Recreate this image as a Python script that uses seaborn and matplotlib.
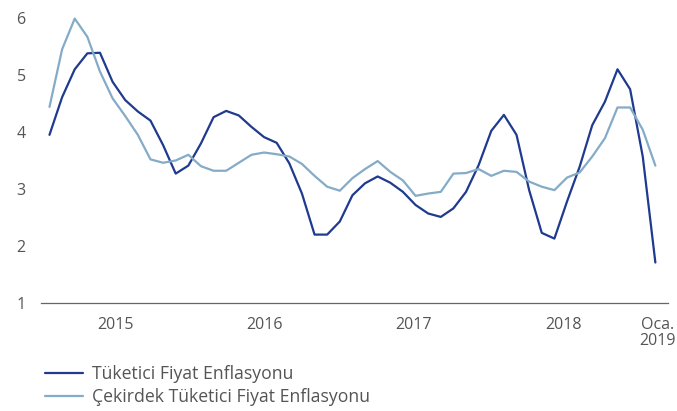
import numpy as np
import pandas as pd
import matplotlib
matplotlib.use("Agg")
import matplotlib.pyplot as plt
import seaborn as sns

# aylik veriler, Ocak 2015 - Ocak 2019
aylar = pd.date_range("2015-01-01", "2019-01-01", freq="MS")
tufe = [3.95, 4.61, 5.10, 5.38, 5.39, 4.88, 4.56, 4.36, 4.20, 3.77, 3.27, 3.41,
        3.80, 4.26, 4.37, 4.29, 4.09, 3.91, 3.81, 3.45, 2.92, 2.20, 2.20, 2.43,
        2.89, 3.10, 3.22, 3.11, 2.95, 2.72, 2.57, 2.51, 2.66, 2.95, 3.42, 4.02,
        4.30, 3.95, 2.98, 2.23, 2.13, 2.78, 3.39, 4.12, 4.53, 5.10, 4.75, 3.57,
        1.71]
cekirdek = [4.44, 5.45, 5.99, 5.67, 5.06, 4.59, 4.28, 3.95, 3.52, 3.46, 3.50, 3.60,
            3.40, 3.32, 3.32, 3.46, 3.60, 3.64, 3.61, 3.57, 3.44, 3.23, 3.04, 2.97,
            3.19, 3.35, 3.49, 3.30, 3.15, 2.88, 2.92, 2.95, 3.27, 3.28, 3.35, 3.23,
            3.32, 3.30, 3.13, 3.04, 2.98, 3.20, 3.29, 3.57, 3.89, 4.43, 4.43, 4.04,
            3.41]
seriler = ["Tüketici Fiyat Enflasyonu", "Çekirdek Tüketici Fiyat Enflasyonu"]
yil_etiketleri = ["2015", "2016", "2017", "2018", "Oca.\n2019"]

df = pd.DataFrame({"ay": np.arange(len(aylar)), seriler[0]: tufe, seriler[1]: cekirdek})
df = df.melt(id_vars="ay", var_name="seri", value_name="deger")

sns.set_style("white")
plt.rcParams["font.family"] = ["Open Sans", "DejaVu Sans"]

fig = plt.figure(figsize=(6.77, 4.11), dpi=100)
ax = fig.add_axes([0.0606, 0.2628, 0.9261, 0.6934])

renkler = {seriler[0]: "#1f3a8e", seriler[1]: "#84abc7"}
sns.lineplot(data=df, x="ay", y="deger", hue="seri", palette=renkler,
             linewidth=1.6, ax=ax, legend=False, clip_on=False)

# yil sinirlari (tick) ve etiket konumlari
sinirlar = [-0.67, 11.1, 22.9, 34.8, 46.6, 48.5]
etiket_yer = [(sinirlar[i] + sinirlar[i + 1]) / 2 for i in range(4)] + [48.2]

ax.set_xlim(-0.67, 49.0)
ax.set_ylim(1, 6)
ax.set_xticks(sinirlar)
ax.set_xticklabels([])
ax.set_xticks(etiket_yer, minor=True)
ax.set_xticklabels(yil_etiketleri, minor=True, linespacing=1.05)
ax.tick_params(axis="x", which="major", direction="in", length=3.5, width=0.8, color="#666666")
ax.tick_params(axis="x", which="minor", length=0, pad=10, labelsize=11.5, labelcolor="#555555")
ax.set_yticks([1, 2, 3, 4, 5, 6])
ax.tick_params(axis="y", length=0, pad=11, labelsize=11.5, labelcolor="#555555")
ax.set_xlabel("")
ax.set_ylabel("")

for s in ["top", "right", "left"]:
    ax.spines[s].set_visible(False)
ax.spines["bottom"].set_color("#666666")
ax.spines["bottom"].set_linewidth(0.9)

handles = [plt.Line2D([], [], color=renkler[s], linewidth=1.6) for s in seriler]
fig.legend(handles, seriler, loc="upper left", bbox_to_anchor=(0.0665, 0.1127),
           frameon=False, fontsize=12.7, handlelength=2.16, handletextpad=0.5,
           labelspacing=0.3, borderaxespad=0, borderpad=0, labelcolor="#555555")

fig.savefig("out.png", dpi=100)
